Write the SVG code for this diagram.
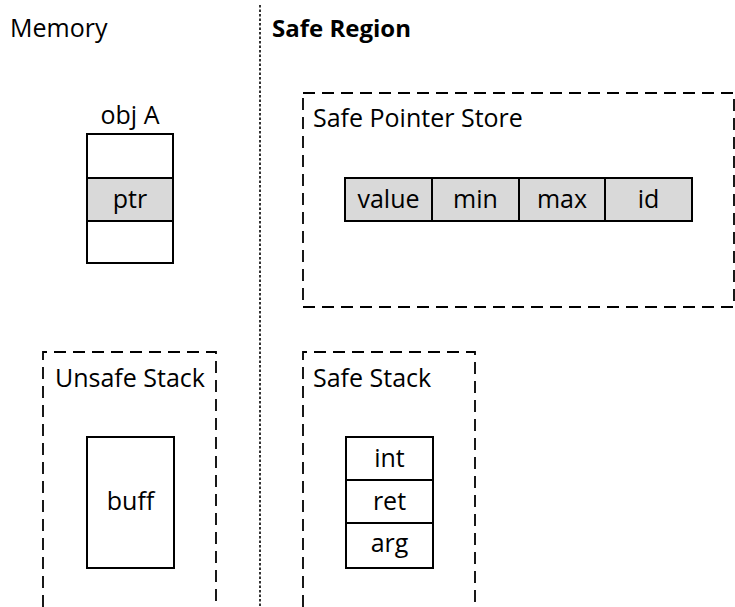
<svg xmlns="http://www.w3.org/2000/svg" width="735" height="607" viewBox="0 0 735 607">
  <style>
    text { font-family: "Open Sans", "Liberation Sans", sans-serif; font-size: 25px; fill: #000; }
    .bold { font-weight: bold; font-size: 24px; }
    .mid { text-anchor: middle; }
    .cell { fill: #fff; stroke: #000; stroke-width: 2; }
    .shaded { fill: #d9d9d9; stroke: #000; stroke-width: 2; }
    .region { fill: none; stroke: #000; stroke-width: 1.8; stroke-dasharray: 12 7; }
    .divider { stroke: #000; stroke-width: 1.6; stroke-dasharray: 2.5 2; }
  </style>

  <!-- separator between ordinary memory and the safe region -->
  <line class="divider" x1="260" y1="5" x2="260" y2="607"/>

  <g id="title-memory">
    <text x="10" y="37">Memory</text>
  </g>
  <g id="title-safe-region">
    <text class="bold" x="272" y="37">Safe Region</text>
  </g>

  <!-- object in regular memory holding a pointer -->
  <g id="obj-a">
    <text class="mid" x="130" y="124">obj A</text>
    <rect class="cell" x="87" y="134" width="86" height="44"/>
    <rect class="shaded" x="87" y="178" width="86" height="43"/>
    <rect class="cell" x="87" y="221" width="86" height="42"/>
    <text class="mid" x="130" y="208">ptr</text>
  </g>

  <!-- safe pointer store with its metadata entry -->
  <g id="safe-pointer-store">
    <rect class="region" x="303" y="93" width="431" height="214"/>
    <text x="313" y="127">Safe Pointer Store</text>
    <rect class="shaded" x="345" y="178" width="87" height="43"/>
    <rect class="shaded" x="432" y="178" width="87" height="43"/>
    <rect class="shaded" x="519" y="178" width="86" height="43"/>
    <rect class="shaded" x="605" y="178" width="87" height="43"/>
    <text class="mid" x="388.5" y="208">value</text>
    <text class="mid" x="475.5" y="208">min</text>
    <text class="mid" x="562" y="208">max</text>
    <text class="mid" x="648.5" y="208">id</text>
  </g>

  <!-- unsafe stack -->
  <g id="unsafe-stack">
    <path class="region" d="M43,607 V352 H216 V607"/>
    <text x="55" y="387">Unsafe Stack</text>
    <rect class="cell" x="87" y="437" width="87" height="131"/>
    <text class="mid" x="130.5" y="510">buff</text>
  </g>

  <!-- safe stack -->
  <g id="safe-stack">
    <path class="region" d="M303,607 V352 H475 V607"/>
    <text x="313" y="387">Safe Stack</text>
    <rect class="cell" x="346" y="437" width="87" height="43"/>
    <rect class="cell" x="346" y="480" width="87" height="43"/>
    <rect class="cell" x="346" y="523" width="87" height="45"/>
    <text class="mid" x="389.5" y="467">int</text>
    <text class="mid" x="389.5" y="510">ret</text>
    <text class="mid" x="389.5" y="552">arg</text>
  </g>
</svg>
